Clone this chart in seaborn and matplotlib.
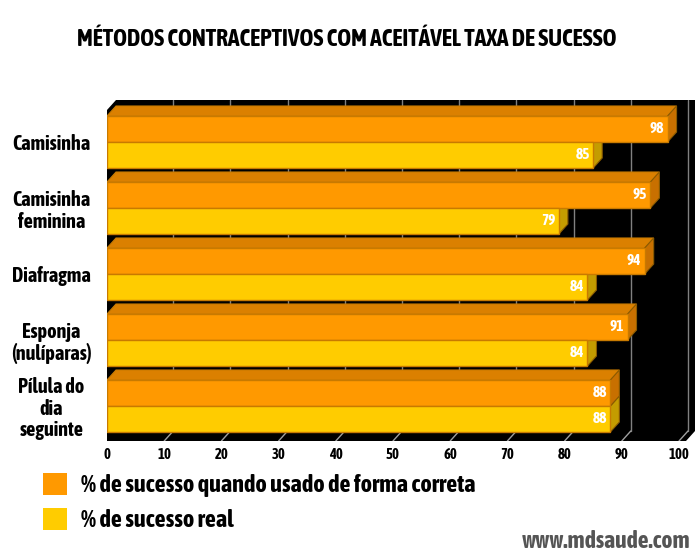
import pandas as pd
import seaborn as sns
import matplotlib.pyplot as plt
import matplotlib.font_manager as fm
from matplotlib.patches import Polygon, Patch
import warnings
warnings.filterwarnings("ignore")

# data
metodos = ['Camisinha', 'Camisinha\nfeminina', 'Diafragma', 'Esponja\n(nulíparas)', 'Pílula do\ndia\nseguinte']
correto = [98, 95, 94, 91, 88]
real = [85, 79, 84, 84, 88]
series = ['% de sucesso quando usado de forma correta', '% de sucesso real']
xticks = list(range(0, 101, 10))

laranja = '#FF9900'
amarelo = '#FFCC00'
topo = ['#DB8000', '#E0B400']
lado = ['#C87000', '#C49C00']
borda = '#C87A00'

df = pd.DataFrame({
    'metodo': metodos * 2,
    'tipo': [series[0]] * len(metodos) + [series[1]] * len(metodos),
    'valor': correto + real,
})

sns.set_style('white')


def peso(f):
    w = f.weight
    return fm.weight_dict.get(w, 400) if isinstance(w, str) else int(w)


# an upright condensed face with a bold cut, else Liberation Sans
estreitas = sorted({f.name for f in fm.fontManager.ttflist
                    if ('Narrow' in f.name or 'Condensed' in f.name or f.stretch == 'condensed')
                    and peso(f) >= 600 and f.style == 'normal'})
base = estreitas[0] if estreitas else 'Liberation Sans'
plt.rcParams['font.family'] = [base, 'DejaVu Sans']
plt.rcParams['font.weight'] = 'bold'
plt.rcParams['font.style'] = 'normal'
plt.rcParams['text.color'] = 'black'
plt.rcParams['xtick.color'] = 'black'
plt.rcParams['ytick.color'] = 'black'

W, H = 700, 555
fig = plt.figure(figsize=(W / 100, H / 100), dpi=100)
fig.patch.set_facecolor('white')
# plot box in pixels: x 107..695, y 100..441
ax = fig.add_axes([107 / W, 1 - 441 / H, (695 - 107) / W, (441 - 100) / H])

sns.barplot(data=df, x='valor', y='metodo', hue='tipo', orient='h',
            palette=[laranja, amarelo], saturation=1, width=0.788, dodge=True,
            edgecolor=borda, linewidth=1, legend=False, ax=ax, zorder=3)

px_x = 5.72   # pixels per percent
px_y = 66.0   # pixels per category
xmax = (695 - 107) / px_x
ytop = (100 - 142) / px_y
ybot = (441 - 142) / px_y
ax.set_xlim(0, xmax)
ax.set_ylim(ybot, ytop)

dx = 9 / px_x
dy = 10 / px_y

# black 3d box
ax.add_patch(Polygon([(0, ytop + dy), (dx, ytop), (xmax, ytop), (xmax, ybot - dy),
                      (xmax - dx, ybot), (0, ybot)], closed=True,
                     facecolor='black', edgecolor='none', zorder=0))

# back grid lines and floor ticks
for t in xticks[1:]:
    ax.plot([t + dx, t + dx], [ytop, ybot - dy], color='#808080', lw=1, zorder=1)
    ax.plot([t + dx, t], [ybot - dy, ybot], color='#A0A0A0', lw=1, zorder=1)

# 3d faces on each bar
for k, cont in enumerate(ax.containers):
    z = 2.5 if k == 0 else 2.2
    for p in cont:
        x0, y0 = p.get_x(), p.get_y()
        w, h = p.get_width(), p.get_height()
        ax.add_patch(Polygon([(x0, y0), (x0 + w, y0), (x0 + w + dx, y0 - dy), (x0 + dx, y0 - dy)],
                             closed=True, facecolor=topo[k], edgecolor=borda, lw=0.8, zorder=z))
        ax.add_patch(Polygon([(x0 + w, y0), (x0 + w, y0 + h), (x0 + w + dx, y0 + h - dy), (x0 + w + dx, y0 - dy)],
                             closed=True, facecolor=lado[k], edgecolor='#8a5a00', lw=0.8, zorder=z))
        ax.text(x0 + w - 0.6, y0 + h / 2, f'{w:.0f}', color='white', fontsize=11,
                fontweight='bold', ha='right', va='center', zorder=4)

for s in ax.spines.values():
    s.set_visible(False)
ax.set_xlabel('')
ax.set_ylabel('')
ax.set_xticks(xticks)
ax.set_xticklabels([str(t) for t in xticks], fontsize=10.5, fontweight='bold')
ax.set_yticks(range(len(metodos)))
ax.set_yticklabels(metodos, fontsize=14.5, fontweight='bold', ha='center',
                   multialignment='center', linespacing=1.1)
ax.tick_params(axis='y', length=0, pad=40)
ax.tick_params(axis='x', length=4, width=1, color='black', pad=1, direction='out')
ax.grid(False)

fig.text(0.496, 1 - 40 / H, 'MÉTODOS CONTRACEPTIVOS COM ACEITÁVEL TAXA DE SUCESSO',
         ha='center', va='center', fontsize=17, fontweight='bold')

handles = [Patch(facecolor=laranja, edgecolor='none'), Patch(facecolor=amarelo, edgecolor='none')]
fig.legend(handles, series, loc='upper left', bbox_to_anchor=(43 / W, 1 - 473 / H),
           frameon=False, handlelength=1.0, handleheight=1.0,
           labelspacing=0.45, handletextpad=0.58, borderpad=0, borderaxespad=0,
           prop={'weight': 'bold', 'size': 17.5})

fig.text(690 / W, 1 - 541 / H, 'www.mdsaude.com', ha='right', va='center',
         fontsize=17, fontweight='bold', color='#555555')

fig.savefig('out.png', dpi=100, facecolor='white')
